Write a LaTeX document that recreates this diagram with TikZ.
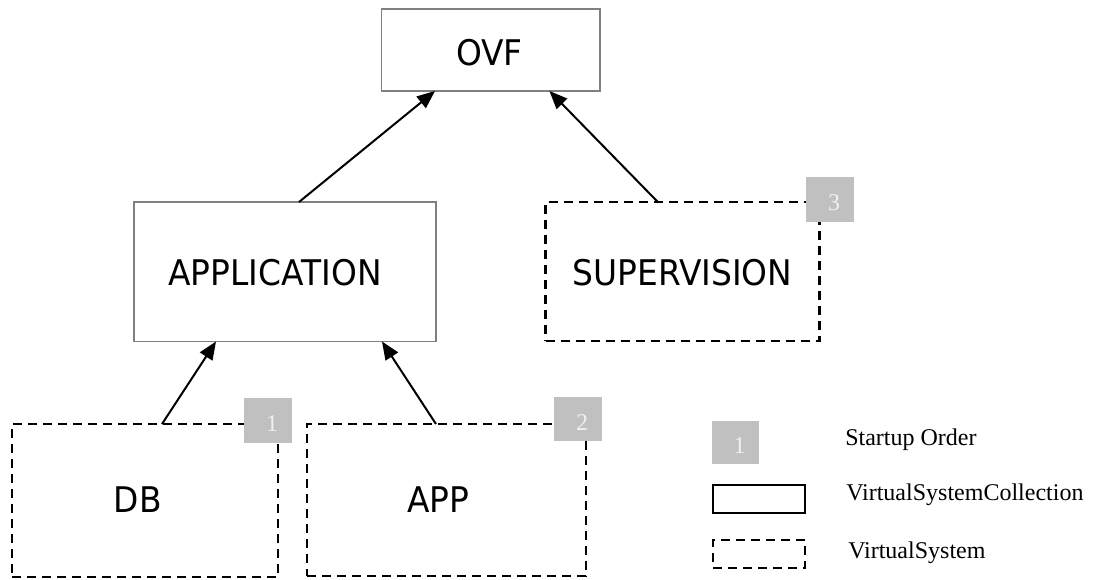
\documentclass[tikz,border=0pt]{standalone}
\usepackage{fontspec}
\setmainfont{Liberation Serif}
\newfontfamily\boxfont[FakeStretch=0.93]{DejaVu Sans}
\usetikzlibrary{arrows.meta}
\definecolor{badgegray}{RGB}{192,192,192}
\definecolor{bordergray}{RGB}{128,128,128}
\definecolor{digitcol}{RGB}{240,240,240}
\tikzset{
  collbox/.style={draw=bordergray, line width=0.9pt, inner sep=0pt, outer sep=0pt, fill=white},
  sysbox/.style={draw=black, line width=1.7pt, dash pattern=on 6.75pt off 4.5pt, inner sep=0pt, outer sep=0pt},
  badge/.style={fill=badgegray, inner sep=0pt, outer sep=0pt, minimum width=36pt, minimum height=33.5pt},
  digit/.style={text=digitcol, font=\fontsize{18pt}{20pt}\selectfont},
  boxtext/.style={font=\boxfont\fontsize{26.5pt}{30pt}\selectfont},
  legtext/.style={font=\fontsize{18pt}{20pt}\selectfont, anchor=base west, inner sep=0pt},
  conn/.style={draw=black, line width=1.5pt, -{Triangle[length=13.5pt,width=11pt]}},
}
\begin{document}
\begin{tikzpicture}[x=0.75pt,y=-0.75pt]
\useasboundingbox (0,0) rectangle (1093,579);
% collections
\node[collbox, minimum width=163.9pt, minimum height=61.5pt,
      label={[boxtext, xshift=-1pt, yshift=-2pt]center:OVF}] (ovf) at (490.75,50) {};
\node[collbox, minimum width=226.5pt, minimum height=104.6pt,
      label={[boxtext, xshift=-7.5pt, yshift=-1pt]center:APPLICATION}] (application) at (285,271.75) {};
% systems
\node[sysbox, minimum width=205.5pt, minimum height=104.25pt,
      label={[boxtext, yshift=-1pt]center:SUPERVISION}] (supervision) at (682.5,271.5) {};
\node[sysbox, minimum width=199.5pt, minimum height=114.75pt,
      label={[boxtext, xshift=-5.5pt, yshift=1pt]center:DB}] (db) at (145,500.5) {};
\node[sysbox, minimum width=209.25pt, minimum height=114pt,
      label={[boxtext, xshift=-6pt]center:APP}] (app) at (446.5,500) {};
% connectors
\draw[conn] ([xshift=10.5pt]application.north) -- ([xshift=-41.8pt]ovf.south);
\draw[conn] ([xshift=-18.5pt]supervision.north) -- ([xshift=44pt]ovf.south);
\draw[conn] ([xshift=12.75pt]db.north) -- ([xshift=-51.75pt]application.south);
\draw[conn] ([xshift=-7.9pt]app.north) -- ([xshift=72.75pt]application.south);
% badges
\node[badge, label={[digit, xshift=3pt, yshift=-2.5pt]center:1}] (b1) at (268,420.5) {};
\node[badge, label={[digit, xshift=3pt, yshift=-2.5pt]center:2}] (b2) at (578,419) {};
\node[badge, label={[digit, xshift=3pt, yshift=-2.5pt]center:3}] (b3) at (830,199.5) {};
% legend
\node[badge, minimum width=35.25pt, minimum height=32.25pt,
      label={[digit, xshift=3pt, yshift=-2.5pt]center:1}] (lb) at (735.5,442.5) {};
\node[draw=black, line width=1.5pt, inner sep=0pt, minimum width=69pt, minimum height=21pt] (lcoll) at (759,499) {};
\node[sysbox, minimum width=69pt, minimum height=21pt] (lsys) at (759,554) {};
\node[legtext] (t1) at (845,445) {Startup Order};
\node[legtext] (t2) at (846,500) {VirtualSystemCollection};
\node[legtext] (t3) at (848,558) {VirtualSystem};
\end{tikzpicture}
\end{document}
